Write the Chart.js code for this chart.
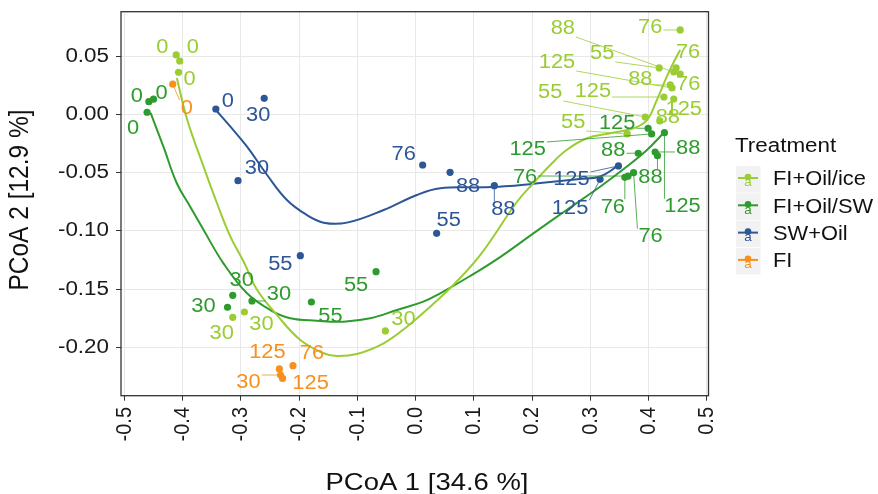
<!DOCTYPE html>
<html>
<head>
<meta charset="utf-8">
<script src="https://cdn.jsdelivr.net/npm/chart.js@4.4.1/dist/chart.umd.min.js"></script>
<style>
html, body { margin: 0; padding: 0; background: #fff; }
#wrap { width: 878px; height: 494px; }
</style>
</head>
<body>
<div id="wrap"><canvas id="pcoa" width="878" height="494"></canvas></div>
<script>
// ---- data ---------------------------------------------------------------
var treatments = ["FI+Oil/ice", "FI+Oil/SW", "SW+Oil", "FI"];
var xTicks = [-0.5, -0.4, -0.3, -0.2, -0.1, 0.0, 0.1, 0.2, 0.3, 0.4, 0.5];
var yTicks = [-0.20, -0.15, -0.10, -0.05, 0.00, 0.05];

// FI+Oil/ice
var iceX = [-0.411, -0.405, -0.407, -0.314, -0.294, -0.052, 0.418, 0.394, 0.363, 0.454, 0.447, 0.454, 0.443, 0.437, 0.419, 0.426, 0.443, 0.440];
var iceY = [0.0514, 0.0462, 0.0365, -0.1744, -0.1698, -0.1861, 0.0402, -0.0020, -0.0166, 0.0729, 0.0402, 0.0350, 0.0367, 0.0256, -0.0054, 0.0152, 0.0135, 0.0230];
var iceDay = [0, 0, 0, 30, 30, 30, 55, 55, 55, 76, 76, 76, 88, 88, 88, 125, 125, 125];
// FI+Oil/SW
var swX = [-0.458, -0.450, -0.461, -0.314, -0.323, -0.281, -0.179, -0.068, 0.359, 0.374, 0.3645, 0.382, 0.411, 0.415, 0.399, 0.405, 0.427];
var swY = [0.0112, 0.0133, 0.0021, -0.1554, -0.1657, -0.1603, -0.1612, -0.1351, -0.0539, -0.0499, -0.0528, -0.0332, -0.0321, -0.0353, -0.0117, -0.0166, -0.0155];
var swDay = [0, 0, 0, 30, 30, 30, 55, 55, 76, 76, 76, 88, 88, 88, 125, 125, 125];
// SW+Oil
var oilX = [-0.343, -0.260, -0.305, -0.198, 0.036, 0.012, 0.059, 0.135, 0.348, 0.3165];
var oilY = [0.0049, 0.0141, -0.0568, -0.1213, -0.1021, -0.0433, -0.0496, -0.0611, -0.0441, -0.0556];
var oilDay = [0, 30, 30, 55, 55, 76, 88, 88, 125, 125];
// FI
var fiX = [-0.417, -0.234, -0.2285, -0.232, -0.2106];
var fiY = [0.0262, -0.2188, -0.2269, -0.224, -0.216];
var fiDay = [0, 125, 125, 30, 76];

// smoothed trend lines
var iceFitX = [-0.410, -0.392, -0.364, -0.341, -0.318, -0.295, -0.272, -0.238, -0.198, -0.158, -0.135, -0.101, -0.055, -0.015, 0.025, 0.068, 0.111, 0.174, 0.202, 0.231, 0.259, 0.294, 0.334, 0.374, 0.397, 0.414, 0.431, 0.442, 0.454];
var iceFitY = [0.0316, -0.0046, -0.0448, -0.0762, -0.1050, -0.1268, -0.1509, -0.1724, -0.1939, -0.2053, -0.2077, -0.2059, -0.1967, -0.1824, -0.1652, -0.1448, -0.1207, -0.0749, -0.0590, -0.0433, -0.0304, -0.0203, -0.0160, -0.0117, -0.0046, 0.0127, 0.0327, 0.0442, 0.0557];
var swFitX = [-0.455, -0.433, -0.410, -0.387, -0.364, -0.330, -0.2895, -0.2495, -0.215, -0.1695, -0.124, -0.078, -0.032, 0.013, 0.042, 0.0935, 0.145, 0.202, 0.259, 0.3165, 0.362, 0.397, 0.425];
var swFitY = [0.0015, -0.0275, -0.0590, -0.0792, -0.0992, -0.1279, -0.1537, -0.1681, -0.1752, -0.1773, -0.1781, -0.1752, -0.1681, -0.1609, -0.1537, -0.1388, -0.1225, -0.1021, -0.0820, -0.0620, -0.0448, -0.0304, -0.0160];
var oilFitX = [-0.343, -0.318, -0.2895, -0.255, -0.221, -0.187, -0.158, -0.118, -0.055, 0.002, 0.042, 0.116, 0.162, 0.214, 0.282, 0.3165, 0.347];
var oilFitY = [0.0040, -0.0103, -0.0275, -0.0519, -0.0734, -0.0863, -0.0929, -0.0929, -0.0820, -0.0691, -0.0633, -0.0625, -0.0614, -0.0588, -0.0553, -0.0532, -0.0441];

// ---- layout / style -----------------------------------------------------
var colors = ["#9ACD32", "#2E9B2E", "#2D5697", "#F7901E"];
// label offsets in px from each point (repelled text positions)
var iceOff = [[-14,-7],[13,-13],[11,7],[-11,16],[17,13],[18,-11],[-57,-14],[-95,-24],[-54,-11],[-30,-2],[12,-15],[8,11],[-111,-43],[-30,-5],[8,-3],[-71,-5],[10,11],[-115,-25]];
var swOff = [[-12,-5],[8,-6],[-14,16],[9,-15],[-24,-1],[27,-6],[19,15],[-20,14],[-12,30],[17,64],[-103,2],[-25,-3],[33,-3],[-7,22],[-31,-5],[-124,16],[18,74]];
var oilOff = [[12,-7],[-6,17],[19,-12],[-20,9],[12,-13],[-19,-10],[18,14],[9,24],[-47,14],[-30,29]];
var fiOff = [[14,24],[-12,-16],[28,5],[-32,8],[19,-12]];

var SX = 1.12;   // the figure is slightly stretched horizontally
var FONT = "'Liberation Sans', Arial, sans-serif";

function pts(xs, ys) {
    return xs.map(function(x, i) { return { x: x, y: ys[i] }; });
}

function txt(ctx, s, x, y, size, color, align, rot) {
    ctx.save();
    ctx.translate(x, y);
    ctx.scale(SX, 1);
    if (rot) ctx.rotate(rot);
    ctx.font = size + "px " + FONT;
    ctx.fillStyle = color;
    ctx.textAlign = align || "center";
    ctx.textBaseline = "middle";
    ctx.fillText(s, 0, 0);
    ctx.restore();
}

var groups = [
    { xs: iceX, ys: iceY, days: iceDay, off: iceOff, col: colors[0] },
    { xs: swX, ys: swY, days: swDay, off: swOff, col: colors[1] },
    { xs: oilX, ys: oilY, days: oilDay, off: oilOff, col: colors[2] },
    { xs: fiX, ys: fiY, days: fiDay, off: fiOff, col: colors[3] }
];

var decor = {
    id: "decor",
    afterDatasetsDraw: function(chart) {
        var ctx = chart.ctx, a = chart.chartArea;
        var sx = chart.scales.x, sy = chart.scales.y;

        // repelled labels + leader segments
        groups.forEach(function(g) {
            g.xs.forEach(function(v, i) {
                var px = sx.getPixelForValue(v), py = sy.getPixelForValue(g.ys[i]);
                var lx = px + g.off[i][0], ly = py + g.off[i][1];
                var s = String(g.days[i]);
                ctx.font = "19.5px " + FONT;
                var hw = ctx.measureText(s).width * SX / 2 + 1, hh = 8;
                var nx = Math.max(lx - hw, Math.min(px, lx + hw));
                var ny = Math.max(ly - hh, Math.min(py, ly + hh));
                var d = Math.hypot(nx - px, ny - py);
                if (d > 11) {
                    ctx.save();
                    ctx.strokeStyle = g.col;
                    ctx.lineWidth = 0.8;
                    ctx.beginPath();
                    ctx.moveTo(px, py);
                    ctx.lineTo(nx, ny);
                    ctx.stroke();
                    ctx.restore();
                }
                txt(ctx, s, lx, ly, 19.5, g.col, "center");
            });
        });

        // panel border
        ctx.save();
        ctx.strokeStyle = "#333333";
        ctx.lineWidth = 1.3;
        ctx.strokeRect(a.left, a.top, a.right - a.left, a.bottom - a.top);
        ctx.restore();

        // tick labels
        sx.ticks.forEach(function(t) {
            txt(ctx, t.value.toFixed(1), sx.getPixelForValue(t.value), 407, 20, "#1a1a1a", "right", -Math.PI / 2);
        });
        sy.ticks.forEach(function(t) {
            txt(ctx, t.value.toFixed(2), 109, sy.getPixelForValue(t.value), 20, "#1a1a1a", "right");
        });

        // axis titles
        txt(ctx, "PCoA 1 [34.6 %]", 427, 483, 24.5, "#111", "center");
        txt(ctx, "PCoA 2 [12.9 %]", 20, 200, 24.5, "#111", "center", -Math.PI / 2);

        // legend
        txt(ctx, "Treatment", 735, 146, 20, "#111", "left");
        treatments.forEach(function(t, i) {
            var top = 166 + i * 27.3, col = colors[i];
            ctx.save();
            ctx.fillStyle = "#F2F2F2";
            ctx.fillRect(736, top, 24.5, 26.5);
            ctx.strokeStyle = col;
            ctx.lineWidth = 2;
            ctx.beginPath();
            ctx.moveTo(738, top + 12);
            ctx.lineTo(758, top + 12);
            ctx.stroke();
            ctx.fillStyle = col;
            ctx.beginPath();
            ctx.arc(748, top + 11, 3.3, 0, Math.PI * 2);
            ctx.fill();
            ctx.restore();
            txt(ctx, "a", 748, top + 17, 12, col, "center");
            txt(ctx, t, 773, top + 14, 19.5, "#111", "left");
        });
    }
};

var lineSets = [[iceFitX, iceFitY], [swFitX, swFitY], [oilFitX, oilFitY]].map(function(f, i) {
    return {
        data: pts(f[0], f[1]), showLine: true, pointRadius: 0, borderColor: colors[i],
        borderWidth: 2, tension: 0.4, fill: false
    };
});
var pointSets = groups.map(function(g) {
    return {
        data: pts(g.xs, g.ys), showLine: false, pointRadius: 3.6, pointHoverRadius: 3.6,
        backgroundColor: g.col, borderWidth: 0
    };
});

new Chart(document.getElementById("pcoa"), {
    type: "scatter",
    data: { datasets: pointSets.concat(lineSets) },
    options: {
        responsive: false,
        animation: false,
        events: [],
        layout: { padding: { left: 0, top: 11.7, right: 169.5, bottom: 0 } },
        plugins: { legend: { display: false }, tooltip: { enabled: false } },
        scales: {
            x: {
                type: "linear", min: -0.5058, max: 0.5026,
                afterBuildTicks: function(s) { s.ticks = xTicks.map(function(v) { return { value: v }; }); },
                afterFit: function(s) { s.height = 98.3; },
                ticks: { display: false },
                border: { display: false },
                grid: { color: "#E8E8E8", lineWidth: 1, tickColor: "#333", tickLength: 5, drawTicks: true }
            },
            y: {
                type: "linear", min: -0.2418, max: 0.0886,
                afterBuildTicks: function(s) { s.ticks = yTicks.map(function(v) { return { value: v }; }); },
                afterFit: function(s) { s.width = 121; },
                ticks: { display: false },
                border: { display: false },
                grid: { color: "#E8E8E8", lineWidth: 1, tickColor: "#333", tickLength: 5, drawTicks: true }
            }
        }
    },
    plugins: [decor]
});
</script>
</body>
</html>
